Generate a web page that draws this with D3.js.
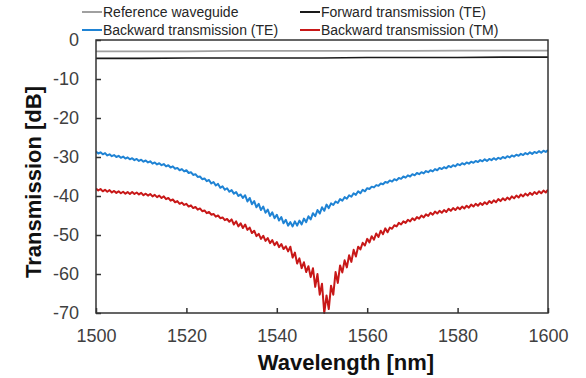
<!DOCTYPE html>
<html>
<head>
<meta charset="utf-8">
<script src="https://cdn.jsdelivr.net/npm/d3@7"></script>
<style>
  body { margin: 0; background: #fff; }
  text { font-family: "Liberation Sans", Arial, sans-serif; }
</style>
</head>
<body>
<script>
// wavelength grid of the measured spectra (0.5 nm step)
var waveStart = 1500, waveStep = 0.5;

// backward transmission, TE [dB]
var backwardTE = [
  -28.6,-29.1,-28.8,-29.3,-29.0,-29.6,-29.3,-29.8,-29.5,-30.0,
  -29.7,-30.2,-29.9,-30.4,-30.1,-30.6,-30.3,-30.8,-30.5,-31.0,
  -30.7,-31.2,-30.9,-31.4,-31.1,-31.7,-31.4,-31.9,-31.6,-32.1,
  -31.8,-32.4,-32.1,-32.7,-32.4,-33.0,-32.8,-33.4,-33.1,-33.7,
  -33.4,-34.1,-33.9,-34.6,-34.4,-35.1,-35.0,-35.7,-35.5,-36.2,
  -35.9,-36.8,-36.4,-37.3,-36.9,-37.9,-37.5,-38.4,-38.0,-38.9,
  -38.5,-39.4,-39.0,-40.0,-39.6,-40.5,-39.8,-41.4,-40.5,-42.1,
  -41.3,-42.9,-42.0,-43.6,-42.7,-44.3,-43.5,-45.1,-44.2,-45.7,
  -44.8,-46.3,-45.4,-47.0,-46.1,-47.6,-46.7,-47.8,-46.5,-47.6,
  -46.3,-47.3,-45.8,-46.7,-45.2,-46.0,-44.4,-45.2,-43.6,-44.5,
  -42.9,-43.8,-42.2,-43.1,-41.9,-42.3,-41.4,-41.8,-40.8,-41.2,
  -40.3,-40.7,-39.8,-40.2,-39.3,-39.7,-38.8,-39.3,-38.4,-38.8,
  -38.0,-38.2,-37.6,-37.8,-37.2,-37.4,-36.8,-37.0,-36.4,-36.6,
  -36.0,-36.3,-35.7,-36.0,-35.4,-35.6,-35.0,-35.3,-34.7,-35.0,
  -34.4,-34.7,-34.1,-34.4,-33.9,-34.2,-33.6,-33.9,-33.4,-33.7,
  -33.1,-33.4,-32.8,-33.1,-32.6,-32.9,-32.3,-32.6,-32.1,-32.4,
  -31.8,-32.1,-31.6,-31.9,-31.4,-31.7,-31.2,-31.5,-31.0,-31.3,
  -30.8,-31.1,-30.6,-31.0,-30.5,-30.8,-30.3,-30.7,-30.2,-30.5,
  -30.0,-30.3,-29.8,-30.1,-29.6,-29.9,-29.4,-29.7,-29.2,-29.5,
  -29.0,-29.3,-28.8,-29.2,-28.7,-29.0,-28.5,-28.9,-28.4,-28.7,
  -28.2
];

// backward transmission, TM [dB]
var backwardTM = [
  -38.1,-38.6,-38.2,-38.8,-38.4,-38.9,-38.5,-39.1,-38.7,-39.2,
  -38.8,-39.3,-38.9,-39.4,-39.0,-39.5,-39.0,-39.5,-39.1,-39.6,
  -39.2,-39.8,-39.4,-39.9,-39.5,-40.1,-39.7,-40.3,-39.9,-40.5,
  -40.1,-40.8,-40.5,-41.2,-40.9,-41.6,-41.3,-42.0,-41.7,-42.3,
  -42.0,-42.7,-42.4,-43.1,-42.8,-43.5,-43.2,-43.9,-43.7,-44.4,
  -44.1,-44.8,-44.6,-45.3,-45.0,-45.7,-45.5,-46.2,-45.9,-46.6,
  -46.0,-47.3,-46.5,-47.8,-47.0,-48.2,-47.3,-48.7,-48.1,-49.5,
  -48.9,-50.3,-49.7,-51.0,-50.2,-51.5,-50.8,-52.1,-51.3,-52.6,
  -51.8,-53.1,-52.3,-53.6,-52.9,-54.2,-53.0,-55.8,-54.5,-57.3,
  -56.0,-58.5,-57.0,-59.5,-58.0,-60.8,-58.5,-63.3,-60.0,-65.3,
  -62.5,-70.0,-65.5,-69.0,-63.0,-65.3,-59.5,-62.3,-57.8,-59.6,
  -56.5,-58.3,-55.2,-56.9,-53.8,-55.5,-53.0,-53.7,-52.0,-52.7,
  -51.0,-51.9,-50.3,-51.2,-49.6,-50.5,-48.9,-49.8,-48.3,-49.3,
  -48.1,-48.4,-47.5,-47.8,-46.9,-47.3,-46.5,-46.9,-46.1,-46.5,
  -45.7,-46.2,-45.4,-45.8,-45.0,-45.5,-44.7,-45.1,-44.3,-44.8,
  -44.0,-44.5,-43.8,-44.3,-43.6,-44.1,-43.3,-43.8,-43.1,-43.6,
  -42.9,-43.4,-42.7,-43.2,-42.5,-43.0,-42.2,-42.7,-42.0,-42.5,
  -41.8,-42.3,-41.6,-42.1,-41.3,-41.8,-41.1,-41.6,-40.8,-41.3,
  -40.6,-41.1,-40.4,-40.9,-40.1,-40.6,-39.9,-40.4,-39.6,-40.1,
  -39.4,-39.9,-39.2,-39.7,-39.0,-39.5,-38.8,-39.3,-38.6,-39.1,
  -38.4
];

// reference waveguide and forward transmission, every 10 nm
var coarseWave = [1500, 1510, 1520, 1530, 1540, 1550, 1560, 1570, 1580, 1590, 1600];
var referenceWG = [-2.9, -2.9, -2.9, -2.8, -2.8, -2.8, -2.8, -2.8, -2.7, -2.7, -2.7];
var forwardTE = [-4.7, -4.7, -4.6, -4.6, -4.6, -4.6, -4.5, -4.5, -4.5, -4.4, -4.4];

var xTicks = [1500, 1520, 1540, 1560, 1580, 1600];
var yTicks = [0, -10, -20, -30, -40, -50, -60, -70];

var margin = {top: 40, right: 38, bottom: 65, left: 96},
    width = 586 - margin.left - margin.right,
    height = 313 - margin.top;

var x = d3.scaleLinear().domain([1500, 1600]).range([0, width]);
var y = d3.scaleLinear().domain([-70, 0]).range([height, 0]);

var svg = d3.select("body").append("svg")
    .attr("width", 586)
    .attr("height", 378);

var g = svg.append("g")
    .attr("transform", "translate(" + margin.left + "," + margin.top + ")");

g.append("clipPath").attr("id", "clip")
  .append("rect").attr("width", width).attr("height", height + 1);

function fine(values) {
  return values.map(function(v, i) { return {w: waveStart + i * waveStep, v: v}; });
}
function coarse(values) {
  return values.map(function(v, i) { return {w: coarseWave[i], v: v}; });
}

var line = d3.line()
    .x(function(d) { return x(d.w); })
    .y(function(d) { return y(d.v); });

var series = [
  {name: "Reference waveguide", data: coarse(referenceWG), color: "#a0a0a0", w: 1.8},
  {name: "Forward transmission (TE)", data: coarse(forwardTE), color: "#1a1a1a", w: 1.6},
  {name: "Backward transmission (TE)", data: fine(backwardTE), color: "#1f83d4", w: 2},
  {name: "Backward transmission (TM)", data: fine(backwardTM), color: "#c81818", w: 2}
];

var plot = g.append("g").attr("clip-path", "url(#clip)");
series.forEach(function(s) {
  plot.append("path")
      .datum(s.data)
      .attr("fill", "none")
      .attr("stroke", s.color)
      .attr("stroke-width", s.w)
      .attr("stroke-linejoin", "round")
      .attr("d", line);
});

// axes, ticks pointing inward; plain hyphen for negatives
var fmt = function(d) { return String(d); };
var xAxis = g.append("g")
    .attr("transform", "translate(0," + height + ")")
    .call(d3.axisBottom(x).tickValues(xTicks).tickFormat(fmt)
      .tickSizeInner(-5).tickSizeOuter(0).tickPadding(16));
var yAxis = g.append("g")
    .call(d3.axisLeft(y).tickValues(yTicks).tickFormat(fmt)
      .tickSizeInner(-5).tickSizeOuter(0).tickPadding(17));

[xAxis, yAxis].forEach(function(a) {
  a.select(".domain").remove();
  a.selectAll(".tick line").attr("stroke", "#333").attr("stroke-width", 1.5);
  a.selectAll(".tick text")
      .attr("fill", "#404040")
      .style("font-size", "18px")
      .style("font-family", "'Liberation Sans', Arial, sans-serif");
});

// plot frame
g.append("rect")
    .attr("width", width)
    .attr("height", height)
    .attr("fill", "none")
    .attr("stroke", "#333")
    .attr("stroke-width", 1.5);

// axis titles
svg.append("text")
    .attr("x", 346)
    .attr("y", 370)
    .attr("text-anchor", "middle")
    .style("font-size", "22px")
    .style("font-weight", "bold")
    .attr("fill", "#111")
    .text("Wavelength [nm]");

svg.append("text")
    .attr("transform", "translate(41,182) rotate(-90)")
    .attr("text-anchor", "middle")
    .style("font-size", "22px")
    .style("font-weight", "bold")
    .attr("fill", "#111")
    .text("Transmission [dB]");

// legend, two rows by two columns
var legendPos = [[82, 12], [300, 12], [82, 30], [300, 30]];
series.forEach(function(s, i) {
  var p = legendPos[i];
  svg.append("line")
      .attr("x1", p[0]).attr("x2", p[0] + 20)
      .attr("y1", p[1]).attr("y2", p[1])
      .attr("stroke", s.color)
      .attr("stroke-width", 2);
  svg.append("text")
      .attr("x", p[0] + 21)
      .attr("y", p[1] + 5)
      .style("font-size", "14px")
      .attr("fill", "#262626")
      .text(s.name);
});
</script>
</body>
</html>
